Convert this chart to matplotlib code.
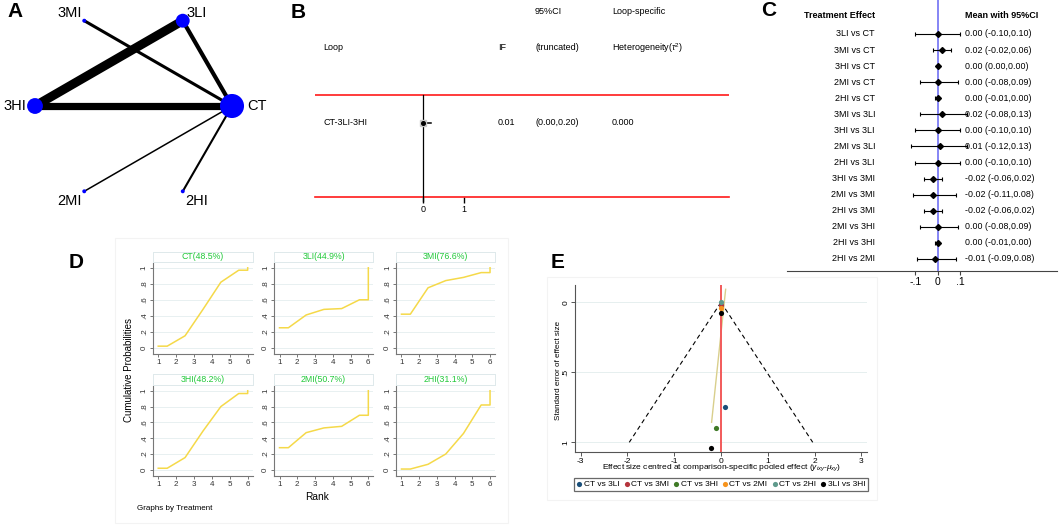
import numpy as np
import matplotlib.pyplot as plt
from matplotlib.patches import Rectangle

plt.rcParams['font.family'] = ['Liberation Sans', 'DejaVu Sans']
plt.rcParams['mathtext.fontset'] = 'custom'
plt.rcParams['mathtext.rm'] = 'Liberation Sans'
plt.rcParams['mathtext.it'] = 'Liberation Sans:italic'

# ---------------- data ----------------
# A: network
treatments = ["CT", "3LI", "3MI", "3HI", "2MI", "2HI"]
node_size = [300, 100, 8, 130, 8, 8]
edges = [("3HI", "3LI"), ("3HI", "CT"), ("3LI", "CT"), ("3MI", "CT"), ("2MI", "CT"), ("2HI", "CT")]
edge_weight = [6.5, 5.2, 3.0, 2.2, 1.1, 1.5]

# B: loop inconsistency
loops = ["CT-3LI-3HI"]
loop_if = [0.01]
loop_lo = [0.00]
loop_hi = [0.20]
loop_tau2 = [0.000]

# C: league forest
comp_labels = ["3LI vs CT", "3MI vs CT", "3HI vs CT", "2MI vs CT", "2HI vs CT",
               "3MI vs 3LI", "3HI vs 3LI", "2MI vs 3LI", "2HI vs 3LI", "3HI vs 3MI",
               "2MI vs 3MI", "2HI vs 3MI", "2MI vs 3HI", "2HI vs 3HI", "2HI vs 2MI"]
comp_mean = [0.00, 0.02, 0.00, 0.00, 0.00, 0.02, 0.00, 0.01, 0.00, -0.02, -0.02, -0.02, 0.00, 0.00, -0.01]
comp_lo = [-0.10, -0.02, 0.00, -0.08, -0.01, -0.08, -0.10, -0.12, -0.10, -0.06, -0.11, -0.06, -0.08, -0.01, -0.09]
comp_hi = [0.10, 0.06, 0.00, 0.09, 0.00, 0.13, 0.10, 0.13, 0.10, 0.02, 0.08, 0.02, 0.09, 0.00, 0.08]

# D: cumulative ranking
rank_x = [1, 1.5, 2.5, 3.5, 4.5, 5.5, 6, 6]
sucra_names = ["CT(48.5%)", "3LI(44.9%)", "3MI(76.6%)", "3HI(48.2%)", "2MI(50.7%)", "2HI(31.1%)"]
cum_ct = [0.02, 0.02, 0.15, 0.48, 0.82, 0.97, 0.97, 1.0]
cum_3li = [0.25, 0.25, 0.41, 0.48, 0.49, 0.60, 0.60, 1.0]
cum_3mi = [0.42, 0.42, 0.75, 0.84, 0.88, 0.94, 0.94, 1.0]
cum_3hi = [0.02, 0.02, 0.155, 0.49, 0.80, 0.965, 0.965, 1.0]
cum_2mi = [0.28, 0.28, 0.47, 0.53, 0.55, 0.69, 0.69, 1.0]
cum_2hi = [0.01, 0.01, 0.07, 0.20, 0.46, 0.82, 0.82, 1.0]
cum_all = [cum_ct, cum_3li, cum_3mi, cum_3hi, cum_2mi, cum_2hi]

# E: comparison-adjusted funnel
funnel_labels = ["CT vs 3LI", "CT vs 3MI", "CT vs 3HI", "CT vs 2MI", "CT vs 2HI", "3LI vs 3HI"]
funnel_colors = ["#1a4f7a", "#b5343c", "#3f7a26", "#f7941d", "#5f9a8c", "#000000"]
funnel_x = [[0.09], [0.0], [-0.11], [0.0], [0.0], [-0.01, -0.21]]
funnel_se = [[0.75], [0.02], [0.90], [0.04], [0.0], [0.075, 1.04]]
reg_intercept = 0.07
reg_slope = -0.316
reg_se_range = [-0.093, 0.857]

# ---------------- layout helpers (pixel boxes) ----------------
W, H = 1059, 526
fig = plt.figure(figsize=(W / 100, H / 100), dpi=100)


def box(x0, y0, x1, y1):
    return fig.add_axes([x0 / W, 1 - y1 / H, (x1 - x0) / W, (y1 - y0) / H])


def ftext(x, y, s, **kw):
    return fig.text(x / W, 1 - y / H, s, **kw)


def frame(x0, y0, x1, y1, color):
    fig.add_artist(Rectangle((x0 / W, 1 - y1 / H), (x1 - x0) / W, (y1 - y0) / H,
                             transform=fig.transFigure, fill=False, ec=color, lw=0.8))


for lab, (x, y) in zip("ABCDE", [(15.5, 11.5), (298, 12), (769, 11), (76, 263), (558, 263)]):
    ftext(x, y, lab, fontsize=15, fontweight='bold', ha='center', va='center')

# ---------------- A ----------------
axA = box(0, 0, 270, 215)
axA.set_xlim(0, 270)
axA.set_ylim(215, 0)
axA.axis('off')
cx, cy, rad = 133.5, 106, 98.5
angles = np.deg2rad(np.arange(len(treatments)) * 60)
pos = {t: (cx + rad * np.cos(a), cy - rad * np.sin(a)) for t, a in zip(treatments, angles)}
for (a, b), w in zip(edges, edge_weight):
    axA.plot([pos[a][0], pos[b][0]], [pos[a][1], pos[b][1]], color='k', lw=w,
             solid_capstyle='butt', zorder=1)
axA.scatter([pos[t][0] for t in treatments], [pos[t][1] for t in treatments],
            s=node_size, color='#0000ff', linewidths=0, zorder=3)
label_off = {"CT": (15, 0, 'left'), "3LI": (4, -8, 'left'), "3MI": (-2, -8, 'right'),
             "3HI": (-9, 0, 'right'), "2MI": (-2, 10, 'right'), "2HI": (2, 10, 'left')}
for t in treatments:
    dx, dy, ha = label_off[t]
    axA.text(pos[t][0] + dx, pos[t][1] + dy, t, ha=ha, va='center', fontsize=10.5)

# ---------------- B ----------------
x0_px, unit_px = 423, 41
axB = box(315, 0, 729, 197)
axB.set_xlim((315 - x0_px) / unit_px, (729 - x0_px) / unit_px)
axB.set_ylim(197, 0)
for s in axB.spines.values():
    s.set_visible(False)
axB.set_yticks([])
axB.set_xticks([0, 1])
axB.set_xticklabels(["0", "1"], fontsize=6.5)
axB.tick_params(axis='x', length=4, width=1, pad=2)
axB.axhline(95, color='#ff1a1a', lw=1.2)
axB.axhline(197, color='#ff1a1a', lw=1.2, clip_on=False)
axB.plot([0, 0], [95, 201], color='k', lw=0.9, clip_on=False)
row_y = 123
fs = 6.5
bx = lambda px: (px - x0_px) / unit_px
for i, name in enumerate(loops):
    y = row_y + i * 28
    axB.plot([loop_lo[i], loop_hi[i]], [y, y], color='k', lw=1.1)
    axB.plot(loop_if[i], y, 's', ms=4.5, color='#c8c8c8', zorder=3)
    axB.plot(loop_if[i], y, 'o', ms=2.6, color='k', zorder=4)
    axB.text(bx(323), y, name, fontsize=fs, va='center')
    axB.text(bx(498), y, f"{loop_if[i]:.2f}", fontsize=fs, va='center')
    axB.text(bx(535), y, f"({loop_lo[i]:.2f},{loop_hi[i]:.2f})", fontsize=fs, va='center')
    axB.text(bx(612), y, f"{loop_tau2[i]:.3f}", fontsize=fs, va='center')
axB.text(bx(535), 11, "95%CI", fontsize=fs, va='center')
axB.text(bx(612), 11, "Loop-specific", fontsize=fs, va='center')
axB.text(bx(323), 48, "Loop", fontsize=fs, va='center')
axB.text(bx(498), 48, "IF", fontsize=fs, va='center')
axB.text(bx(535), 48, "(truncated)", fontsize=fs, va='center')
axB.text(bx(612), 48, r"Heterogeneity($\tau^2$)", fontsize=fs, va='center')

# ---------------- C ----------------
c0_px, cunit = 937.7, 225
row0, rstep = 34, 16.07
axC = box(787, 0, 1057, 271)
axC.set_xlim((787 - c0_px) / cunit, (1057 - c0_px) / cunit)
axC.set_ylim((271 - row0) / rstep, -row0 / rstep)
for k in ['top', 'right', 'left']:
    axC.spines[k].set_visible(False)
axC.spines['bottom'].set_color('#444444')
axC.spines['bottom'].set_linewidth(0.8)
axC.set_yticks([])
axC.set_xticks([-0.1, 0, 0.1])
axC.set_xticklabels(["-.1", "0", ".1"], fontsize=7.5)
axC.tick_params(axis='x', length=3, width=0.8, color='#444444', pad=1.5)
axC.axvline(0, color='#7c7cf5', lw=1.3, zorder=1)
rows = np.arange(len(comp_labels))
m = np.array(comp_mean)
axC.errorbar(m, rows, xerr=[m - np.array(comp_lo), np.array(comp_hi) - m], fmt='D', ms=3,
             color='k', ecolor='k', elinewidth=0.8, capsize=1.3, capthick=0.8, zorder=3)
lx, vx = (875 - c0_px) / cunit, (965 - c0_px) / cunit
for i, lab in enumerate(comp_labels):
    axC.text(lx, i, lab, ha='right', va='center', fontsize=6.5)
    axC.text(vx, i, f"{comp_mean[i]:.2f} ({comp_lo[i]:.2f},{comp_hi[i]:.2f})",
             ha='left', va='center', fontsize=6.4)
hy = (15.7 - row0) / rstep
axC.text(lx, hy, "Treatment Effect", ha='right', va='center', fontsize=6.5, fontweight='bold')
axC.text(vx, hy, "Mean with 95%CI", ha='left', va='center', fontsize=6.5, fontweight='bold')

# ---------------- D ----------------
frame(115, 238, 508, 523, '#f3f3f3')
col_px = [(152.7, 252.7), (274, 373.3), (396, 495)]
row_px = [(263, 354), (386, 476)]
strip_px = [(251.7, 262), (374.3, 384.5)]
for k, (name, cum) in enumerate(zip(sucra_names, cum_all)):
    r, c = divmod(k, 3)
    ax = box(col_px[c][0], row_px[r][0], col_px[c][1], row_px[r][1])
    ax.set_xlim(0.69, 6.28)
    ax.set_ylim(-0.078, 1.06)
    for yy in np.arange(0, 1.01, 0.2):
        ax.axhline(yy, color='#e8f0f1', lw=0.7, zorder=0)
    ax.plot(rank_x, cum, color='#f5d949', lw=1.1, zorder=2)
    for s in ['top', 'right']:
        ax.spines[s].set_visible(False)
    for s in ['left', 'bottom']:
        ax.spines[s].set_color('#777777')
        ax.spines[s].set_linewidth(0.8)
    ax.set_xticks([1, 2, 3, 4, 5, 6])
    ax.set_xticklabels(["1", "2", "3", "4", "5", "6"], fontsize=5.8)
    ax.set_yticks([0, 0.2, 0.4, 0.6, 0.8, 1])
    ax.set_yticklabels(["0", ".2", ".4", ".6", ".8", "1"], fontsize=5.8, rotation=90, va='center')
    ax.tick_params(length=2.5, width=0.7, color='#777777', pad=1, labelcolor='#333333')
    sax = box(col_px[c][0], strip_px[r][0], col_px[c][1], strip_px[r][1])
    sax.set_xticks([])
    sax.set_yticks([])
    for s in sax.spines.values():
        s.set_color('#dfe9eb')
        s.set_linewidth(0.7)
    sax.text(0.5, 0.5, name, transform=sax.transAxes, ha='center', va='center',
             fontsize=6.3, color='#22c93a')
ftext(129, 370, "Cumulative Probabilities", rotation=90, ha='center', va='center', fontsize=7)
ftext(317, 497, "Rank", ha='center', va='center', fontsize=7.3)
ftext(137, 508, "Graphs by Treatment", ha='left', va='center', fontsize=5.8)

# ---------------- E ----------------
frame(547, 277, 877, 500, '#f3f3f3')
e0_px, eunit, se0_px, seunit = 721, 46.8, 302.3, 140
axE = box(575, 285, 867, 452)
axE.set_xlim((575 - e0_px) / eunit, (867 - e0_px) / eunit)
axE.set_ylim((452 - se0_px) / seunit, (285 - se0_px) / seunit)
for yy in [0, 0.5, 1]:
    axE.axhline(yy, color='#e6efef', lw=0.7, zorder=0)
se_line = np.array([0, 1])
axE.plot(-1.96 * se_line, se_line, ls=(0, (4, 3)), color='k', lw=0.8)
axE.plot(1.96 * se_line, se_line, ls=(0, (4, 3)), color='k', lw=0.8)
se_reg = np.array(reg_se_range)
axE.plot(reg_intercept + reg_slope * se_reg, se_reg, color='#d9cf8c', lw=1.0, zorder=2)
axE.axvline(0, color='#f25a5a', lw=1.4, zorder=3)
for lab, col, xs, ses in zip(funnel_labels, funnel_colors, funnel_x, funnel_se):
    axE.scatter(xs, ses, s=14, color=col, label=lab, zorder=4, linewidths=0)
for s in ['top', 'right']:
    axE.spines[s].set_visible(False)
for s in ['left', 'bottom']:
    axE.spines[s].set_color('#555555')
    axE.spines[s].set_linewidth(0.8)
axE.set_xticks([-3, -2, -1, 0, 1, 2, 3])
axE.set_xticklabels(["-3", "-2", "-1", "0", "1", "2", "3"], fontsize=6)
axE.set_yticks([0, 0.5, 1])
axE.set_yticklabels(["0", ".5", "1"], fontsize=6, rotation=90, va='center')
axE.tick_params(length=3, width=0.7, color='#555555', pad=1)
ftext(558, 370, "Standard error of effect size", rotation=90, ha='center', va='center', fontsize=5.8)
ftext(722, 468, r"Effect size centred at comparison-specific pooled effect ($y_{ixy}$-$\mu_{xy}$)",
      ha='center', va='center', fontsize=6)
leg = axE.legend(loc='center', bbox_to_anchor=(721 / W, 1 - 484.5 / H), bbox_transform=fig.transFigure,
                 ncol=6, fontsize=6, frameon=True, fancybox=False, edgecolor='#444444',
                 handlelength=0.6, handletextpad=0.25, columnspacing=0.55, borderpad=0.35,
                 borderaxespad=0)
leg.get_frame().set_linewidth(0.9)

fig.savefig("out.png", dpi=100)
